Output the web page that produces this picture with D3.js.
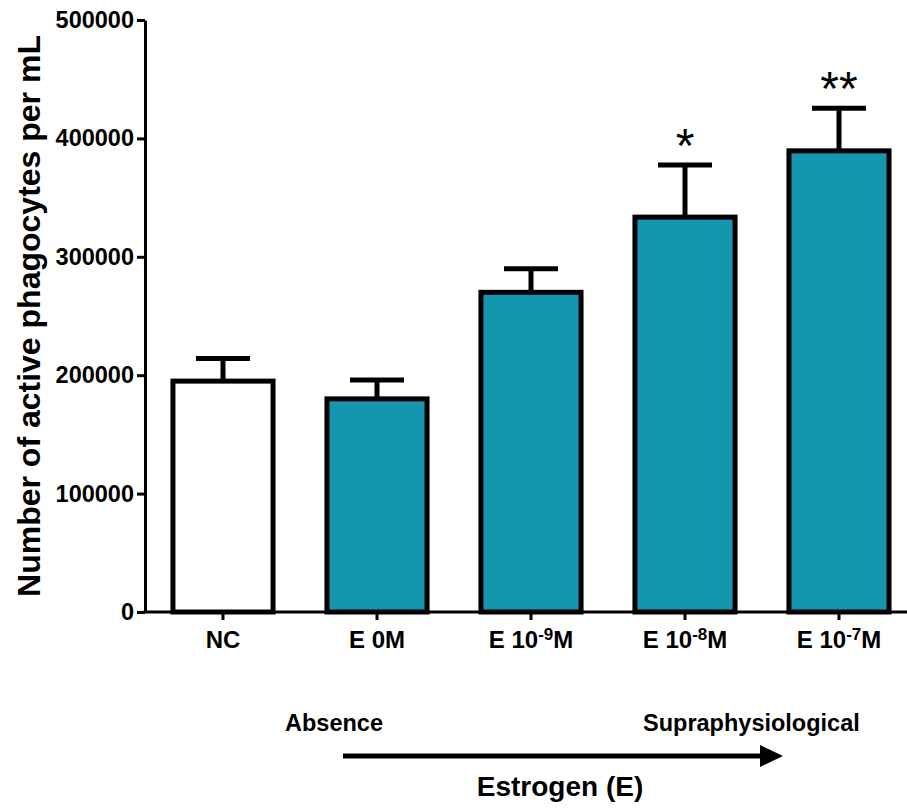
<!DOCTYPE html>
<html>
<head>
<meta charset="utf-8">
<script src="https://cdn.jsdelivr.net/npm/d3@7"></script>
<style>
  body { margin: 0; background: #fff; }
  text { font-family: "Liberation Sans", Arial, sans-serif; font-weight: bold; fill: #000; }
</style>
</head>
<body>
<div id="chart"></div>
<script>
// data
var groups = ["NC", "E 0M", "E 10-9M", "E 10-8M", "E 10-7M"];
var labelBase = ["NC", "E 0M", "E 10", "E 10", "E 10"];
var labelSup = ["", "", "-9", "-8", "-7"];
var labelEnd = ["", "", "M", "M", "M"];
var means = [195000, 180000, 270000, 333500, 389500];
var errors = [19000, 16000, 20000, 44000, 36000];
var signif = ["", "", "", "*", "**"];
var yTicks = [0, 100000, 200000, 300000, 400000, 500000];

var data = groups.map(function(g, i) {
  return {group: g, mean: means[i], err: errors[i], sig: signif[i], i: i};
});

var W = 907, H = 810;
var teal = "#1596b0";

var svg = d3.select("#chart")
  .append("svg")
    .attr("width", W)
    .attr("height", H);

var x = d3.scaleBand()
  .domain(groups)
  .range([146, 916])
  .paddingInner(0.35)
  .paddingOuter(0.175);

var y = d3.scaleLinear()
  .domain([0, 500000])
  .range([612, 20]);

// error bars (upper only)
var eb = svg.append("g");
data.forEach(function(d) {
  var cx = x(d.group) + x.bandwidth() / 2;
  eb.append("line")
    .attr("x1", cx).attr("x2", cx)
    .attr("y1", y(d.mean)).attr("y2", y(d.mean + d.err))
    .attr("stroke", "#000").attr("stroke-width", 5);
  eb.append("line")
    .attr("x1", cx - 27).attr("x2", cx + 27)
    .attr("y1", y(d.mean + d.err)).attr("y2", y(d.mean + d.err))
    .attr("stroke", "#000").attr("stroke-width", 5);
});

// bars
svg.append("g")
  .selectAll("rect")
  .data(data)
  .join("rect")
    .attr("x", function(d) { return x(d.group); })
    .attr("width", x.bandwidth())
    .attr("y", function(d) { return y(d.mean); })
    .attr("height", function(d) { return y(0) - y(d.mean); })
    .attr("fill", function(d) { return d.i === 0 ? "#fff" : teal; })
    .attr("stroke", "#000")
    .attr("stroke-width", 5);

// significance stars
svg.append("g")
  .selectAll("text")
  .data(data.filter(function(d) { return d.sig; }))
  .join("text")
    .attr("x", function(d) { return x(d.group) + x.bandwidth() / 2; })
    .attr("y", function(d) { return y(d.mean + d.err) - 3; })
    .attr("text-anchor", "middle")
    .style("font-size", "48px")
    .style("font-weight", "normal")
    .text(function(d) { return d.sig; });

// Y axis
var yAxis = svg.append("g")
  .attr("transform", "translate(145,0)")
  .call(d3.axisLeft(y).tickValues(yTicks).tickSize(8).tickSizeOuter(0).tickPadding(3).tickFormat(d3.format("d")));
yAxis.select(".domain").attr("stroke-width", 3);
yAxis.selectAll(".tick line").attr("stroke-width", 3);
yAxis.selectAll(".tick text")
  .style("font-size", "23.5px")
  .style("font-family", "'Liberation Sans', Arial, sans-serif")
  .style("font-weight", "bold");

// X axis
var xAxis = svg.append("g")
  .attr("transform", "translate(0,612)")
  .call(d3.axisBottom(x).tickSize(8).tickSizeOuter(0).tickPadding(6));
xAxis.select(".domain").attr("stroke-width", 3).attr("d", "M143.5,0H916");
xAxis.selectAll(".tick line").attr("stroke-width", 3);
xAxis.selectAll(".tick text").each(function(g) {
  var i = groups.indexOf(g);
  var t = d3.select(this)
    .text(null)
    .attr("dy", "0.9em")
    .style("font-size", "24px")
    .style("font-family", "'Liberation Sans', Arial, sans-serif")
    .style("font-weight", "bold");
  t.append("tspan").text(labelBase[i]);
  if (labelSup[i]) {
    t.append("tspan").attr("dy", "-0.45em").style("font-size", "17px").text(labelSup[i]);
    t.append("tspan").attr("dy", "0.32em").text(labelEnd[i]);
  }
});

// y axis title
svg.append("text")
  .attr("transform", "translate(40,316) rotate(-90)")
  .attr("text-anchor", "middle")
  .style("font-size", "32px")
  .text("Number of active phagocytes per mL");

// estrogen gradient annotation
svg.append("text")
  .attr("x", 285).attr("y", 731)
  .style("font-size", "23.5px")
  .text("Absence");
svg.append("text")
  .attr("x", 643).attr("y", 731)
  .style("font-size", "23.5px")
  .text("Supraphysiological");
svg.append("line")
  .attr("x1", 343).attr("x2", 764)
  .attr("y1", 756).attr("y2", 756)
  .attr("stroke", "#000").attr("stroke-width", 5);
svg.append("path")
  .attr("d", "M760,745L783,756L760,767Z")
  .attr("fill", "#000");
svg.append("text")
  .attr("x", 560).attr("y", 796)
  .attr("text-anchor", "middle")
  .style("font-size", "28px")
  .text("Estrogen (E)");
</script>
</body>
</html>
